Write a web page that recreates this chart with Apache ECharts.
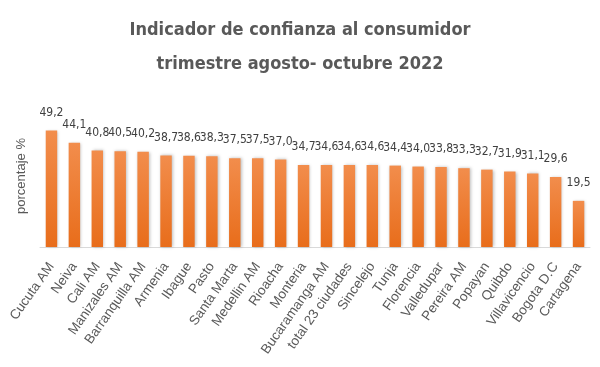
<!DOCTYPE html>
<html><head><meta charset="utf-8">
<script src="https://cdn.jsdelivr.net/npm/echarts@6/dist/echarts.min.js"></script>
<style>html,body{margin:0;padding:0;background:#fff}#c{width:600px;height:367px}</style>
</head><body><div id="c"></div>
<script>
const categories = ["Cucuta AM","Neiva","Cali AM","Manizales AM","Barranquilla AM","Armenia","Ibague","Pasto","Santa Marta","Medellin AM","Rioacha","Monteria","Bucaramanga AM","total 23 ciudades","Sincelejo","Tunja","Florencia","Valledupar","Pereira AM","Popayan","Quibdo","Villavicencio","Bogota D.C","Cartagena"];
const values = [49.2,44.1,40.8,40.5,40.2,38.7,38.6,38.3,37.5,37.5,37.0,34.7,34.6,34.6,34.6,34.4,34.0,33.8,33.3,32.7,31.9,31.1,29.6,19.5];
const titleLines = ["Indicador de confianza al consumidor","trimestre agosto- octubre 2022"];
const yAxisName = "porcentaje %";

const COND = '"DejaVu Sans Condensed", "DejaVu Sans", sans-serif';
const chart = echarts.init(document.getElementById('c'));
chart.setOption({
  animation:false,
  title:{
    text: titleLines.join('\n'),
    left:'center', top:8,
    textStyle:{fontFamily:COND, fontWeight:'bold', fontSize:18, color:'#595959', lineHeight:34}
  },
  grid:{left:40, right:10, top:105, bottom:120},
  xAxis:{
    type:'category', data:categories,
    axisLine:{lineStyle:{color:'#d9d9d9'}},
    axisTick:{show:false},
    axisLabel:{interval:0, rotate:55, fontFamily:'Liberation Sans', fontSize:13.5, color:'#595959', margin:17}
  },
  yAxis:{
    type:'value', min:0, max:60, show:true,
    name:yAxisName, nameLocation:'middle', nameGap:12,
    nameTextStyle:{fontFamily:'Liberation Sans', fontSize:13, color:'#595959'},
    axisLine:{show:false}, axisTick:{show:false}, axisLabel:{show:false}, splitLine:{show:false}
  },
  series:[{
    type:'bar', data:values, barWidth:'50%',
    itemStyle:{
      color:new echarts.graphic.LinearGradient(0,0,0,1,[{offset:0,color:'#F28D4C'},{offset:1,color:'#E86D1B'}]),
      shadowColor:'rgba(0,0,0,0.25)', shadowBlur:3, shadowOffsetX:1, shadowOffsetY:0
    },
    label:{show:true, position:'top', distance:12,
      formatter:p=>p.value.toFixed(1).replace('.',','),
      fontFamily:COND, fontSize:12, color:'#404040'}
  }]
});
</script></body></html>
